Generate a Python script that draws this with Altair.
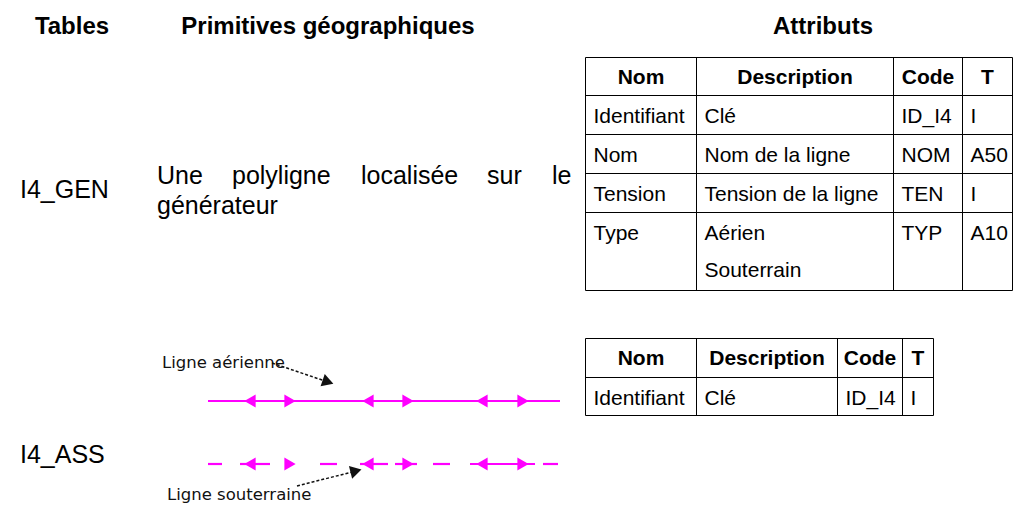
import math
import altair as alt
import pandas as pd

# ---------------- content ----------------
section_titles = ["Tables", "Primitives géographiques", "Attributs"]
table_names = ["I4_GEN", "I4_ASS"]
gen_geom_line1 = ["Une", "polyligne", "localisée", "sur", "le"]
gen_geom_line2 = ["générateur"]
attr_header = ["Nom", "Description", "Code", "T"]

gen_names = ["Identifiant", "Nom", "Tension", "Type"]
gen_descs = [["Clé"], ["Nom de la ligne"], ["Tension de la ligne"], ["Aérien", "Souterrain"]]
gen_codes = ["ID_I4", "NOM", "TEN", "TYP"]
gen_types = ["I", "A50", "I", "A10"]

ass_names = ["Identifiant"]
ass_descs = [["Clé"]]
ass_codes = ["ID_I4"]
ass_types = ["I"]

legend_labels = ["Ligne aérienne", "Ligne souterraine"]
marker_dirs = ["left", "right", "left", "right", "left", "right"]
marker_pos = [250, 290, 368, 408, 482, 523]
underground_dashes = [(208, 222), (240, 270), (320, 337), (360, 388),
                      (395, 417), (433, 450), (470, 535), (543, 558)]

# ---------------- layout ----------------
X0, X1 = 8, 1013
Y0, Y1 = 8, 505
W, H = X1 - X0, Y1 - Y0
xs = alt.Scale(domain=[X0, X1], nice=False, zero=False)
ys = alt.Scale(domain=[Y0, Y1], nice=False, zero=False, reverse=True)

ARIAL = "Liberation Sans"
PIX = "DejaVu Sans"
MAGENTA = "#ff00ff"

title_x = [72, 328, 823]
title_y = 34
name_x = 20
name_y = [198, 463]
geom_x1 = [157, 232, 361, 487, 552]
geom_y1 = 184
geom_y2 = 214

T1_COLS = [585.5, 696.5, 893.5, 962.5, 1012.5]
T1_ROWS = [57.5, 95.5, 134.5, 173.5, 212.5, 290.5]
T2_COLS = [585.5, 696.5, 837.5, 902.5, 933.5]
T2_ROWS = [338.5, 377.5, 415.5]
PAD = 8
SUBLINE = 37

AIR_Y = 401
UND_Y = 464
LINE_X = (208, 560)


def X(f="x"):
    return alt.X(f"{f}:Q", scale=xs, axis=None)


def Y(f="y"):
    return alt.Y(f"{f}:Q", scale=ys, axis=None)


def text_layer(rows, size, weight="normal", align="left", font=ARIAL, color="black"):
    df = pd.DataFrame(rows, columns=["x", "y", "text"])
    return alt.Chart(df).mark_text(
        align=align, baseline="alphabetic", fontSize=size, fontWeight=weight,
        font=font, color=color
    ).encode(x=X(), y=Y(), text="text:N")


def rule_layer(rows, color="black", width=1.0, dash=None):
    df = pd.DataFrame(rows, columns=["x", "y", "x2", "y2"])
    kw = dict(color=color, strokeWidth=width)
    if dash:
        kw["strokeDash"] = dash
    return alt.Chart(df).mark_rule(**kw).encode(
        x=X(), y=Y(), x2="x2:Q", y2="y2:Q"
    )


def build_table(cols, rows, names, descs, codes, types):
    header = []
    for i, h in enumerate(attr_header):
        header.append(((cols[i] + cols[i + 1]) / 2, rows[0] + 26, h))
    body = []
    for r, (n, d, c, t) in enumerate(zip(names, descs, codes, types)):
        base = rows[r + 1] + 27
        body.append((cols[0] + PAD, base, n))
        for k, line in enumerate(d):
            body.append((cols[1] + PAD, base + k * SUBLINE, line))
        body.append((cols[2] + PAD, base, c))
        body.append((cols[3] + PAD, base, t))
    lines = [(cols[0], y, cols[-1], y) for y in rows]
    lines += [(x, rows[0], x, rows[-1]) for x in cols]
    return [
        text_layer(header, 21, "bold", "center"),
        text_layer(body, 21),
        rule_layer(lines),
    ]


layers = []

# section titles
layers.append(text_layer([(x, title_y, t) for x, t in zip(title_x, section_titles)],
                         24, "bold", "center"))

# table names
layers.append(text_layer([(name_x, y, t) for y, t in zip(name_y, table_names)], 25))

# justified geometry description
geo = [(x, geom_y1, w) for x, w in zip(geom_x1, gen_geom_line1)]
geo += [(geom_x1[0], geom_y2, w) for w in gen_geom_line2]
layers.append(text_layer(geo, 25))

# attribute tables
layers += build_table(T1_COLS, T1_ROWS, gen_names, gen_descs, gen_codes, gen_types)
layers += build_table(T2_COLS, T2_ROWS, ass_names, ass_descs, ass_codes, ass_types)

# magenta lines
mag = [(LINE_X[0], AIR_Y, LINE_X[1], AIR_Y)]
mag += [(a, UND_Y, b, UND_Y) for a, b in underground_dashes]
layers.append(rule_layer(mag, MAGENTA, 2.2))

mk = pd.DataFrame({
    "x": marker_pos * 2,
    "y": [AIR_Y] * len(marker_pos) + [UND_Y] * len(marker_pos),
    "dir": marker_dirs * 2,
})
layers.append(
    alt.Chart(mk).mark_point(filled=True, opacity=1, size=170, color=MAGENTA).encode(
        x=X(), y=Y(),
        shape=alt.Shape("dir:N", scale=alt.Scale(domain=["left", "right"],
                                                 range=["triangle-left", "triangle-right"]),
                        legend=None),
    )
)

# legend labels
layers.append(text_layer([(162, 368, legend_labels[0]), (167, 500, legend_labels[1])],
                         16.5, font=PIX, color="#111111"))

# black pointer arrows
arrows = [(272, 363, 328, 382), (297, 486, 356, 471)]
layers.append(rule_layer(arrows, "#111111", 1.5, [3, 2]))
heads = pd.DataFrame({
    "x": [a[2] for a in arrows],
    "y": [a[3] for a in arrows],
    "angle": [math.degrees(math.atan2(a[3] - a[1], a[2] - a[0])) % 360 for a in arrows],
})
layers.append(
    alt.Chart(heads).mark_point(filled=True, opacity=1, size=170, color="#111111",
                                shape="triangle-right").encode(
        x=X(), y=Y(), angle=alt.Angle("angle:Q", scale=None)
    )
)

chart = alt.layer(*layers).properties(
    width=W, height=H, padding=0, autosize="none", background="white"
).configure_view(strokeWidth=0)

chart.save("out.html", embed_options={"renderer": "svg", "actions": False})
